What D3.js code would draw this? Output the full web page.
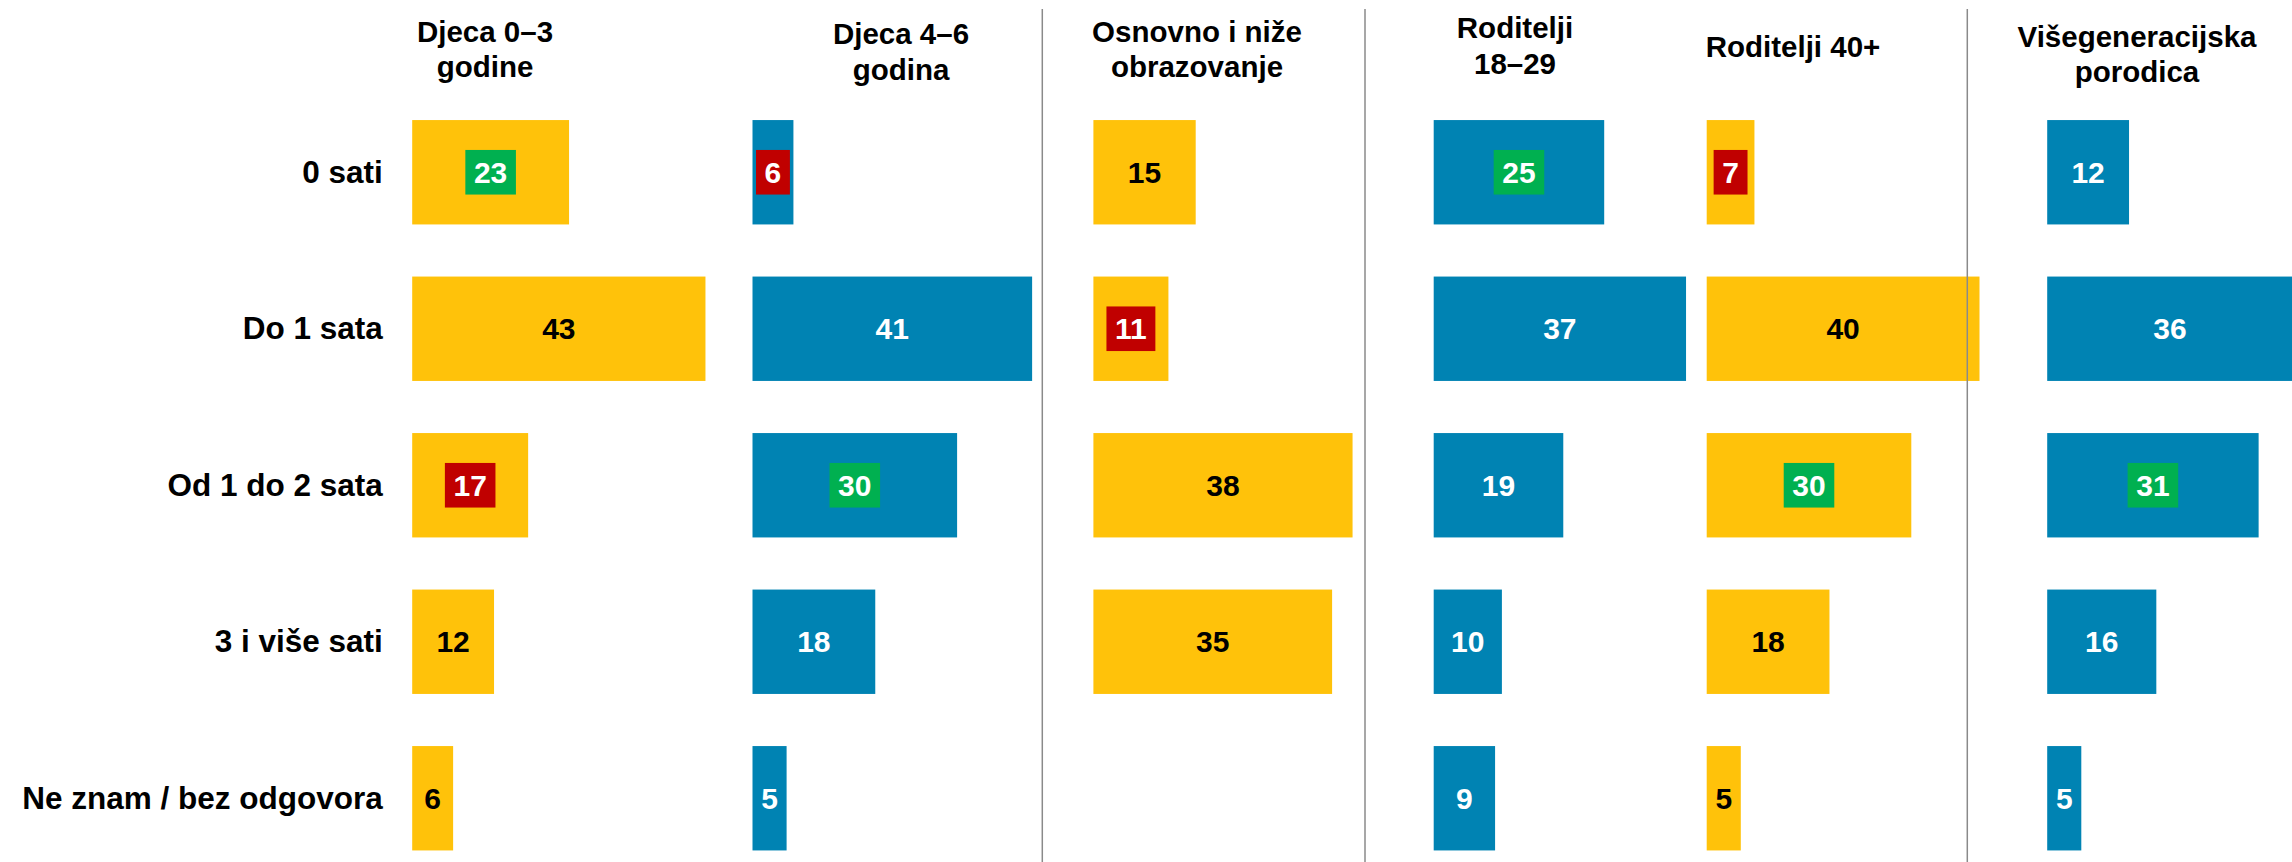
<!DOCTYPE html>
<html>
<head>
<meta charset="utf-8">
<script src="https://cdn.jsdelivr.net/npm/d3@7"></script>
<style>
  html, body { margin: 0; padding: 0; background: #fff; }
  svg { display: block; font-family: "Liberation Sans", Arial, sans-serif; font-weight: bold; }
</style>
</head>
<body>
<div id="chart"></div>
<script>
// Answer categories (rows)
const categories = ["0 sati", "Do 1 sata", "Od 1 do 2 sata", "3 i više sati", "Ne znam / bez odgovora"];

// Group titles (one entry per column, split into lines)
const groupTitles = [
  ["Djeca 0–3", "godine"],
  ["Djeca 4–6", "godina"],
  ["Osnovno i niže", "obrazovanje"],
  ["Roditelji", "18–29"],
  ["Roditelji 40+"],
  ["Višegeneracijska", "porodica"]
];

// Percentages per group, in category order (null = no answer shown)
const djeca03 = [23, 43, 17, 12, 6];
const djeca46 = [6, 41, 30, 18, 5];
const osnovno = [15, 11, 38, 35, null];
const roditelji1829 = [25, 37, 19, 10, 9];
const roditelji40 = [7, 40, 30, 18, 5];
const visegeneracijska = [12, 36, 31, 16, 5];

// Highlighted cells: [group index, category index]
const highMarks = [[0, 0], [1, 2], [3, 0], [4, 2], [5, 2]];
const lowMarks = [[0, 2], [1, 0], [2, 1], [4, 0]];

const seriesValues = [djeca03, djeca46, osnovno, roditelji1829, roditelji40, visegeneracijska];

// ---- layout ----
const W = 2292, H = 862;
const YELLOW = "#FFC20A", BLUE = "#0083B3", GREEN = "#00B050", RED = "#C00000";
const groupColor = [YELLOW, BLUE, YELLOW, BLUE, YELLOW, BLUE];
const groupX = [412.2, 752.5, 1093.4, 1433.7, 1706.7, 2047.2];
const titleCenter = [485, 901, 1197, 1515, 1793, 2137];
const titleBaseline = [41.7, 44.3, 41.7, 38.3, 56.7, 46.7];
const titleLineGap = 35.5;
const separators = [1042.3, 1365, 1967.3];

const svg = d3.select("#chart").append("svg")
  .attr("width", W).attr("height", H);

const y = d3.scaleBand()
  .domain(categories)
  .range([94, 876.5])
  .paddingInner(0.333)
  .paddingOuter(0.1665);

const x = d3.scaleLinear().domain([0, 100]).range([0, 682]);

// Row labels
svg.append("g").selectAll("text")
  .data(categories)
  .join("text")
  .attr("x", 382.8)
  .attr("y", d => y(d) + y.bandwidth() / 2 + 10.5)
  .attr("text-anchor", "end")
  .attr("font-size", 31.5)
  .attr("fill", "#000")
  .text(d => d);

// Column titles
groupTitles.forEach((lines, gi) => {
  const t = svg.append("text")
    .attr("text-anchor", "middle")
    .attr("font-size", 29.5)
    .attr("fill", "#000");
  lines.forEach((ln, li) => {
    t.append("tspan")
      .attr("x", titleCenter[gi])
      .attr("y", titleBaseline[gi] + li * titleLineGap)
      .text(ln);
  });
});

const isMarked = (list, gi, ci) => list.some(m => m[0] === gi && m[1] === ci);

// Bars and labels per group
seriesValues.forEach((vals, gi) => {
  const g = svg.append("g").attr("transform", `translate(${groupX[gi]},0)`);
  const cells = vals.map((v, ci) => ({ v, ci, cat: categories[ci] })).filter(d => d.v != null);

  g.selectAll("rect.bar")
    .data(cells)
    .join("rect")
    .attr("class", "bar")
    .attr("x", 0)
    .attr("y", d => y(d.cat))
    .attr("width", d => x(d.v))
    .attr("height", y.bandwidth())
    .attr("fill", groupColor[gi]);

  cells.forEach(d => {
    const cx = x(d.v) / 2;
    const cy = y(d.cat) + y.bandwidth() / 2;
    const high = isMarked(highMarks, gi, d.ci);
    const low = isMarked(lowMarks, gi, d.ci);
    const boxG = g.append("g");
    const label = boxG.append("text")
      .attr("x", cx)
      .attr("y", cy + 10.7)
      .attr("text-anchor", "middle")
      .attr("font-size", 30)
      .attr("fill", (high || low) ? "#fff" : (groupColor[gi] === YELLOW ? "#000" : "#fff"))
      .text(d.v);
    if (high || low) {
      const tw = label.node().getComputedTextLength();
      boxG.insert("rect", "text")
        .attr("x", cx - tw / 2 - 8.6)
        .attr("y", cy - 22.3)
        .attr("width", tw + 17.2)
        .attr("height", 44.6)
        .attr("fill", high ? GREEN : RED);
    }
  });
});

// Vertical separators between group blocks
svg.append("g").selectAll("line")
  .data(separators)
  .join("line")
  .attr("x1", d => d).attr("x2", d => d)
  .attr("y1", 9).attr("y2", H)
  .attr("stroke", "#8a8a8a")
  .attr("stroke-width", 1.5);
</script>
</body>
</html>
